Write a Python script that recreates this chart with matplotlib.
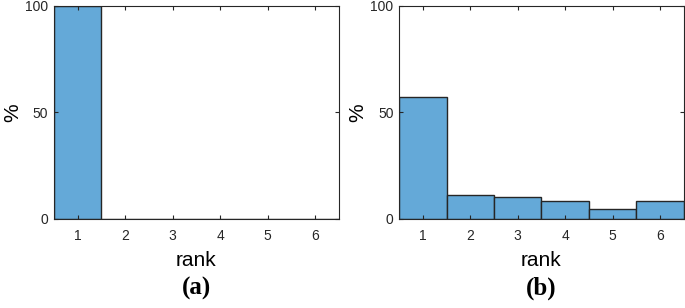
import matplotlib
matplotlib.use('Agg')
import matplotlib.pyplot as plt

# rank distribution, percent
ranks = [1, 2, 3, 4, 5, 6]
pct_a = [100, 0, 0, 0, 0, 0]
pct_b = [57.1, 11.4, 10.5, 8.3, 4.5, 8.6]
panel_labels = ['(a)', '(b)']

plt.rcParams['font.family'] = ['Liberation Sans', 'DejaVu Sans']

fig = plt.figure(figsize=(6.85, 3.08), dpi=100)
ax_a = fig.add_axes([0.0788, 0.289, 0.416, 0.6916])
ax_b = fig.add_axes([0.5825, 0.289, 0.416, 0.6916])

for ax, vals, lab in zip([ax_a, ax_b], [pct_a, pct_b], panel_labels):
    ax.bar(ranks, vals, width=1.0, color='#64a9d8', edgecolor='#262626', linewidth=1.0)
    ax.set_xlim(0.5, 6.5)
    ax.set_ylim(0, 100)
    ax.set_xticks(ranks)
    ax.set_yticks([0, 50, 100])
    ax.tick_params(axis='x', pad=7)
    ax.tick_params(axis='y', pad=4)
    ax.tick_params(direction='in', top=True, right=True, length=3,
                   labelsize=10, colors='#262626')
    for s in ax.spines.values():
        s.set_color('#262626')
        s.set_linewidth(0.8)
    ax.set_xlabel('rank', fontsize=15, labelpad=6)
    ax.set_ylabel('%', fontsize=15, labelpad=2)
    ax.text(0.5, -0.27, lab, transform=ax.transAxes, ha='center', va='top',
            fontsize=18, fontweight='bold', family='Liberation Serif')

fig.savefig('out.png', dpi=100)
